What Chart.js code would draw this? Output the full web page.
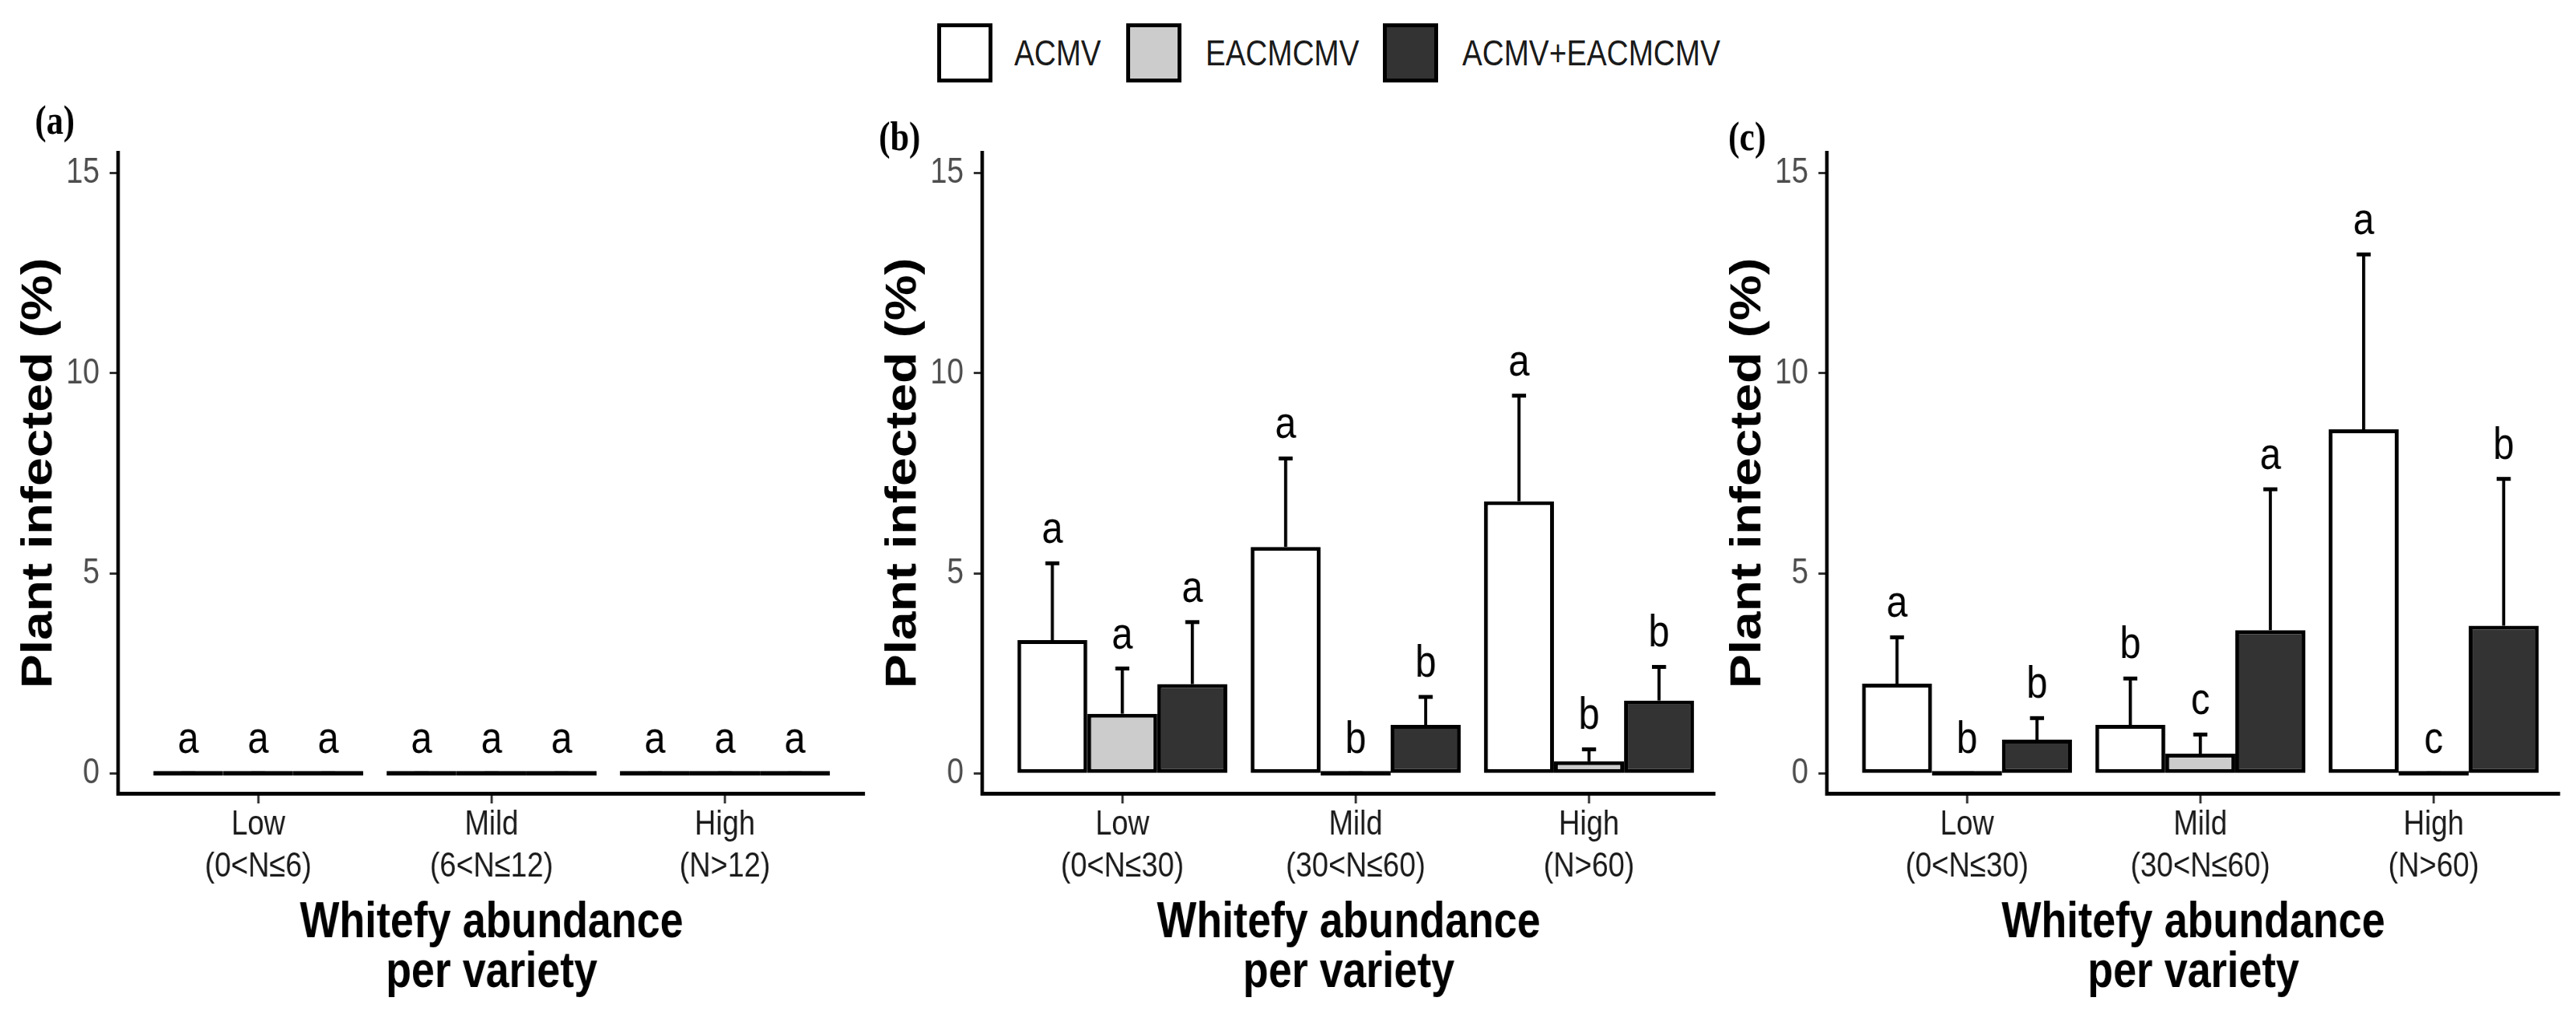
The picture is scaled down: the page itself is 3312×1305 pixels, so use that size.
<!DOCTYPE html>
<html>
<head>
<meta charset="utf-8">
<script src="https://cdn.jsdelivr.net/npm/chart.js@4.4.1/dist/chart.umd.min.js"></script>
<style>
  html, body { margin: 0; padding: 0; background: #fff; }
  body { width: 3312px; height: 1305px; position: relative; overflow: hidden; }
  canvas { position: absolute; top: 0; transform-origin: 0 0; }
  .key { position: absolute; top: 30px; width: 71px; height: 76px; box-sizing: border-box; border: 5px solid #000; }
  .key-text { position: absolute; top: 30px; height: 76px; line-height: 76px; font-family: "Liberation Sans", Arial, sans-serif; font-size: 46px; color: #1a1a1a; white-space: nowrap; transform-origin: 0 0; }
</style>
</head>
<body>
<div id="legend"></div>

<canvas id="chartA"></canvas>
<canvas id="chartB"></canvas>
<canvas id="chartC"></canvas>

<script>
// tick labels
const levelsA = [["Low", "(0<N≤6)"], ["Mild", "(6<N≤12)"], ["High", "(N>12)"]];
const levelsBC = [["Low", "(0<N≤30)"], ["Mild", "(30<N≤60)"], ["High", "(N>60)"]];
const yTicks = [0, 5, 10, 15];
const virusNames = ["ACMV", "EACMCMV", "ACMV+EACMCMV"];
const fills = ["#ffffff", "#cccccc", "#333333"];

// (a)
const aAcmv = [0, 0, 0], aAcmvSe = [0, 0, 0], aAcmvLet = ["a", "a", "a"];
const aEac = [0, 0, 0], aEacSe = [0, 0, 0], aEacLet = ["a", "a", "a"];
const aMix = [0, 0, 0], aMixSe = [0, 0, 0], aMixLet = ["a", "a", "a"];

// (b)
const bAcmv = [3.33, 5.66, 6.8], bAcmvSe = [1.92, 2.21, 2.64], bAcmvLet = ["a", "a", "a"];
const bEac = [1.49, 0, 0.3], bEacSe = [1.13, 0, 0.3], bEacLet = ["a", "b", "b"];
const bMix = [2.23, 1.21, 1.82], bMixSe = [1.55, 0.7, 0.84], bMixLet = ["a", "b", "b"];

// (c)
const cAcmv = [2.24, 1.21, 8.6], cAcmvSe = [1.16, 1.16, 4.37], cAcmvLet = ["a", "b", "a"];
const cEac = [0, 0.49, 0], cEacSe = [0, 0.48, 0], cEacLet = ["b", "c", "c"];
const cMix = [0.84, 3.58, 3.69], cMixSe = [0.54, 3.52, 3.67], cMixLet = ["b", "a", "b"];

// the figure is horizontally squeezed: draw wide, then scaleX the canvases
const K = 0.84;
const sans = '"Liberation Sans", Arial, sans-serif';

// legend
const legend = document.getElementById("legend");
[[1205, 1304], [1448, 1550], [1778, 1880]].forEach(([bx, tx], i) => {
  const box = document.createElement("div");
  box.className = "key";
  box.style.left = bx + "px";
  box.style.background = fills[i];
  const txt = document.createElement("div");
  txt.className = "key-text";
  txt.style.left = tx + "px";
  txt.style.transform = "scaleX(" + K + ")";
  txt.textContent = virusNames[i];
  legend.appendChild(box);
  legend.appendChild(txt);
});

const errorBars = {
  id: "errorBars",
  afterDatasetsDraw(chart) {
    const { ctx } = chart;
    const y = chart.scales.y;
    ctx.save();
    chart.data.datasets.forEach((ds, i) => {
      chart.getDatasetMeta(i).data.forEach((bar, j) => {
        const v = ds.data[j].y;
        const top = y.getPixelForValue(v + ds.se[j]);
        ctx.strokeStyle = "#000";
        ctx.lineWidth = 4 / K;
        ctx.beginPath();
        ctx.moveTo(bar.x, y.getPixelForValue(v));
        ctx.lineTo(bar.x, top);
        ctx.stroke();
        ctx.lineWidth = 5;
        ctx.beginPath();
        ctx.moveTo(bar.x - 9 / K, top);
        ctx.lineTo(bar.x + 9 / K, top);
        ctx.stroke();
        ctx.fillStyle = "#000";
        ctx.font = "58px " + sans;
        ctx.textAlign = "center";
        ctx.textBaseline = "alphabetic";
        ctx.fillText(ds.letters[j], bar.x, top - 26);
      });
    });
    ctx.restore();
  },
};

const panelTag = {
  id: "panelTag",
  afterDraw(chart, args, opts) {
    const { ctx } = chart;
    ctx.save();
    ctx.fillStyle = "#000";
    ctx.font = 'bold 52px "Liberation Serif", serif';
    ctx.textBaseline = "top";
    ctx.fillText(opts.text, opts.x, opts.y);
    ctx.restore();
  },
};

// box: canvas left, y axis, end of x axis, canvas right (page pixels)
function makeChart(id, box, levels, series, tag) {
  const canvas = document.getElementById(id);
  const w = Math.round((box.right - box.left) / K);
  canvas.width = w;
  canvas.height = 1305;
  canvas.style.left = box.left + "px";
  canvas.style.transform = "scaleX(" + K + ")";
  const yWidth = (box.axis - box.left) / K;
  const plotRight = (box.end - box.left) / K;
  const spacing = 300;
  const xMax = -0.6 + (box.end - box.axis) / spacing;

  new Chart(canvas.getContext("2d"), {
    type: "bar",
    data: {
      datasets: series.map((s, i) => ({
        label: virusNames[i],
        data: s.values.map((v, j) => ({ x: j, y: v })),
        se: s.se,
        letters: s.letters,
        backgroundColor: fills[i],
        borderColor: "#000",
        borderWidth: { top: 5, bottom: 5, left: 5 / K, right: 5 / K },
        borderSkipped: false,
        minBarLength: 6,
        categoryPercentage: 0.9,
        barPercentage: 1.0,
      })),
    },
    options: {
      responsive: false,
      animation: false,
      devicePixelRatio: 1,
      layout: { padding: { top: 197, left: 0, right: w - plotRight, bottom: 0 } },
      plugins: {
        legend: { display: false },
        tooltip: { enabled: false },
        panelTag: { text: tag.text, x: (tag.x - box.left) / K, y: tag.y },
      },
      scales: {
        x: {
          type: "linear",
          min: -0.6,
          max: xMax,
          offset: false,
          afterBuildTicks: (s) => {
            s.ticks = [0, 1, 2].map((v) => ({ value: v }));
          },
          afterFit: (s) => {
            s.height = 285;
          },
          ticks: {
            callback: (v) => levels[v],
            autoSkip: false,
            maxRotation: 0,
            padding: 1,
            color: "#1a1a1a",
            font: { family: sans, size: 45, lineHeight: 1.2 },
          },
          grid: {
            offset: false,
            drawOnChartArea: false,
            tickLength: 13,
            tickWidth: 3 / K,
            tickColor: "#333",
          },
          border: { display: true, color: "#000", width: 5 },
          title: {
            display: true,
            text: ["Whitefy abundance", "per variety"],
            color: "#000",
            font: { family: sans, size: 64, weight: "bold", lineHeight: 1.0 },
            padding: { top: 0, bottom: 22 },
          },
        },
        y: {
          min: -0.5,
          max: 15.5,
          afterBuildTicks: (s) => {
            s.ticks = yTicks.map((v) => ({ value: v }));
          },
          afterFit: (s) => {
            s.width = yWidth;
          },
          ticks: {
            padding: 13 / K,
            color: "#4d4d4d",
            font: { family: sans, size: 46 },
          },
          grid: {
            drawOnChartArea: false,
            tickLength: 11 / K,
            tickWidth: 3,
            tickColor: "#333",
          },
          border: { display: true, color: "#000", width: 4.5 / K },
          title: {
            display: true,
            text: "Plant infected (%)",
            color: "#000",
            font: { family: sans, size: 66, weight: "bold", lineHeight: 1.2 },
            padding: { top: (box.axis - 101 - box.left) / K - 39.6, bottom: 0 },
          },
        },
      },
    },
    plugins: [errorBars, panelTag],
  });
}

makeChart("chartA", { left: 0, axis: 152, end: 1112, right: 1140 }, levelsA, [
  { values: aAcmv, se: aAcmvSe, letters: aAcmvLet },
  { values: aEac, se: aEacSe, letters: aEacLet },
  { values: aMix, se: aMixSe, letters: aMixLet },
], { text: "(a)", x: 45, y: 133 });

makeChart("chartB", { left: 1111, axis: 1263, end: 2205, right: 2233 }, levelsBC, [
  { values: bAcmv, se: bAcmvSe, letters: bAcmvLet },
  { values: bEac, se: bEacSe, letters: bEacLet },
  { values: bMix, se: bMixSe, letters: bMixLet },
], { text: "(b)", x: 1130, y: 154 });

makeChart("chartC", { left: 2197, axis: 2349, end: 3291, right: 3312 }, levelsBC, [
  { values: cAcmv, se: cAcmvSe, letters: cAcmvLet },
  { values: cEac, se: cEacSe, letters: cEacLet },
  { values: cMix, se: cMixSe, letters: cMixLet },
], { text: "(c)", x: 2222, y: 154 });
</script>
</body>
</html>
